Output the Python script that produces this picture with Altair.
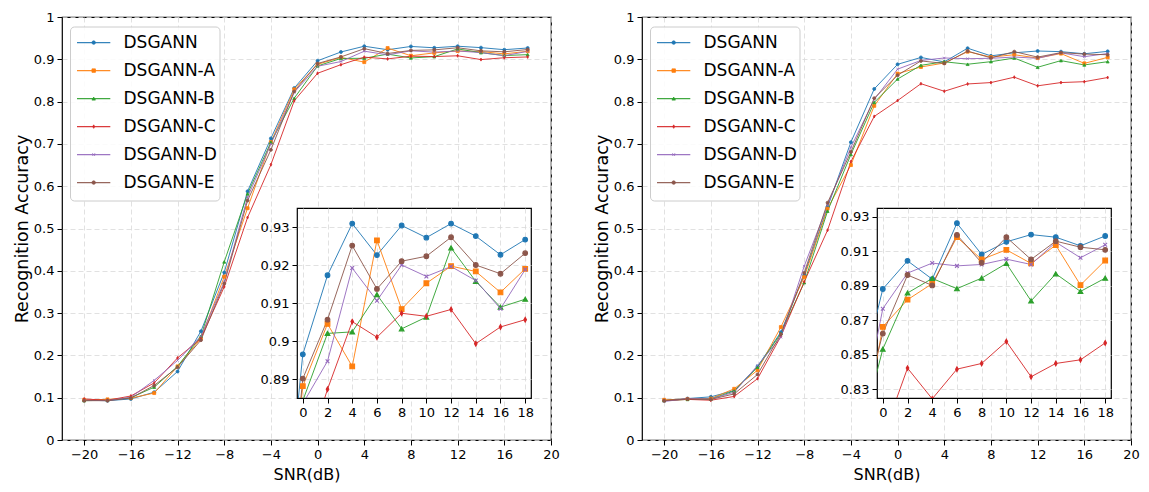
import altair as alt
import pandas as pd

# ---------------- data ----------------
snr = [-20, -18, -16, -14, -12, -10, -8, -6, -4, -2, 0, 2, 4, 6, 8, 10, 12, 14, 16, 18]
series = ["DSGANN", "DSGANN-A", "DSGANN-B", "DSGANN-C", "DSGANN-D", "DSGANN-E"]
colors = ["#1f77b4", "#ff7f0e", "#2ca02c", "#d62728", "#9467bd", "#8c564b"]

# left panel
L_DSGANN = [0.094, 0.093, 0.097, 0.113, 0.162, 0.257, 0.396, 0.588, 0.713, 0.832, 0.8965, 0.9173, 0.9309, 0.9226, 0.9304, 0.9272, 0.9309, 0.9276, 0.9227, 0.9267]
L_A = [0.095, 0.096, 0.099, 0.111, 0.174, 0.240, 0.386, 0.548, 0.704, 0.829, 0.8881, 0.9045, 0.8933, 0.9265, 0.9084, 0.9152, 0.9197, 0.9183, 0.9128, 0.9190]
L_B = [0.093, 0.094, 0.100, 0.125, 0.174, 0.245, 0.421, 0.582, 0.704, 0.808, 0.8843, 0.9020, 0.9024, 0.9122, 0.9032, 0.9063, 0.9245, 0.9157, 0.9089, 0.9110]
L_C = [0.097, 0.094, 0.104, 0.135, 0.194, 0.240, 0.362, 0.526, 0.651, 0.802, 0.8670, 0.8873, 0.9051, 0.9010, 0.9073, 0.9065, 0.9083, 0.8993, 0.9037, 0.9056]
L_D = [0.094, 0.093, 0.101, 0.141, 0.188, 0.245, 0.374, 0.574, 0.700, 0.822, 0.8835, 0.8947, 0.9192, 0.9106, 0.9200, 0.9170, 0.9196, 0.9159, 0.9085, 0.9188]
L_E = [0.093, 0.093, 0.099, 0.129, 0.172, 0.236, 0.370, 0.566, 0.686, 0.824, 0.8901, 0.9056, 0.9251, 0.9137, 0.9210, 0.9223, 0.9273, 0.9200, 0.9177, 0.9231]

# right panel
R_DSGANN = [0.094, 0.098, 0.102, 0.117, 0.174, 0.255, 0.390, 0.551, 0.704, 0.830, 0.8881, 0.9044, 0.8938, 0.9262, 0.9081, 0.9154, 0.9196, 0.9181, 0.9131, 0.9188]
R_A = [0.095, 0.097, 0.098, 0.121, 0.165, 0.267, 0.385, 0.547, 0.650, 0.790, 0.8662, 0.8819, 0.8912, 0.9181, 0.9052, 0.9108, 0.9029, 0.9135, 0.8904, 0.9046]
R_B = [0.093, 0.096, 0.097, 0.116, 0.172, 0.252, 0.372, 0.541, 0.675, 0.798, 0.8533, 0.8858, 0.8942, 0.8883, 0.8944, 0.9029, 0.8812, 0.8969, 0.8867, 0.8944]
R_C = [0.093, 0.096, 0.094, 0.103, 0.145, 0.245, 0.374, 0.496, 0.658, 0.765, 0.8024, 0.8423, 0.8245, 0.8417, 0.8450, 0.8577, 0.8373, 0.8450, 0.8471, 0.8569]
R_D = [0.091, 0.098, 0.097, 0.113, 0.176, 0.243, 0.411, 0.555, 0.692, 0.805, 0.8767, 0.8973, 0.9031, 0.9015, 0.9023, 0.9054, 0.9023, 0.9152, 0.9062, 0.9137]
R_E = [0.093, 0.097, 0.096, 0.109, 0.155, 0.250, 0.395, 0.561, 0.681, 0.808, 0.8623, 0.8962, 0.8902, 0.9194, 0.9033, 0.9181, 0.9052, 0.9158, 0.9123, 0.9108]

main_x_ticks = [-20, -16, -12, -8, -4, 0, 4, 8, 12, 16, 20]
main_y_ticks = [0, 0.1, 0.2, 0.3, 0.4, 0.5, 0.6, 0.7, 0.8, 0.9, 1]
inset_x_ticks = [0, 2, 4, 6, 8, 10, 12, 14, 16, 18]
left_inset_y_ticks = [0.89, 0.90, 0.91, 0.92, 0.93]
right_inset_y_ticks = [0.83, 0.85, 0.87, 0.89, 0.91, 0.93]
left_inset_y_domain = [0.885, 0.935]
right_inset_y_domain = [0.825, 0.935]

shapes = [
    "circle",
    "square",
    "triangle-up",
    "M0,-1L0.55,0L0,1L-0.55,0Z",
    "M-0.8,-0.8L0.8,0.8M-0.8,0.8L0.8,-0.8",
    "circle",
]

FONT = "DejaVu Sans"
W, H = 489, 423
IW, IH = 234, 190
IX, IY = 235, 191
PANEL_GAP = 580


def long_df(cols):
    rows = []
    for name, vals in zip(series, cols):
        for s, v in zip(snr, vals):
            rows.append({"snr": s, "acc": v, "series": name})
    return pd.DataFrame(rows)


color_enc = alt.Color("series:N", scale=alt.Scale(domain=series, range=colors), legend=None)
stroke_enc = alt.Stroke("series:N", scale=alt.Scale(domain=series, range=colors), legend=None)
shape_enc = alt.Shape("series:N", scale=alt.Scale(domain=series, range=shapes), legend=None)


def main_panel(df):
    x = alt.X("snr:Q", scale=alt.Scale(domain=[-21.9, 20], nice=False, zero=False),
              axis=alt.Axis(values=main_x_ticks, title="SNR(dB)", titlePadding=5, titleFontSize=16))
    y = alt.Y("acc:Q", scale=alt.Scale(domain=[0, 1], nice=False, zero=False),
              axis=alt.Axis(values=main_y_ticks, format=".1~f", title="Recognition Accuracy",
                            titlePadding=2, titleFontSize=17.5))
    base = alt.Chart(df)
    lines = base.mark_line(strokeWidth=1, opacity=0.9).encode(x=x, y=y, color=color_enc, detail="series:N")
    pts = base.mark_point(filled=True, size=9, strokeWidth=0.8, opacity=1).encode(
        x=x, y=y, color=color_enc, stroke=stroke_enc, shape=shape_enc)

    ldf = pd.DataFrame({"series": series})
    ly = alt.Y("series:N", scale=alt.Scale(type="point", domain=series, range=[25.6, 165.6], padding=0),
               axis=None)
    box = alt.Chart(ldf.head(1)).mark_rect(fill="white", fillOpacity=0.85, stroke="#cccccc",
                                           strokeWidth=1, cornerRadius=4).encode(
        x=alt.value(8.5), x2=alt.value(158), y=alt.value(10), y2=alt.value(184))
    lrule = alt.Chart(ldf).mark_rule(strokeWidth=1.1, opacity=0.9).encode(
        x=alt.value(15), x2=alt.value(48.3), y=ly, color=color_enc)
    lpt = alt.Chart(ldf).mark_point(filled=True, size=12, strokeWidth=0.8, opacity=1).encode(
        x=alt.value(31.7), y=ly, color=color_enc, stroke=stroke_enc, shape=shape_enc)
    ltxt = alt.Chart(ldf).mark_text(align="left", baseline="middle", fontSize=17, font=FONT,
                                    color="black").encode(
        x=alt.value(61.5), y=ly, text="series:N")

    data_layer = alt.layer(lines, pts)
    legend_layer = alt.layer(box, lrule, lpt, ltxt)
    return alt.layer(data_layer, legend_layer).resolve_scale(y="independent").properties(
        width=W, height=H)


def inset_panel(df, ydom, yticks):
    x = alt.X("snr:Q", scale=alt.Scale(domain=[-0.47, 18.47], nice=False, zero=False),
              axis=alt.Axis(values=inset_x_ticks, title=None))
    y = alt.Y("acc:Q", scale=alt.Scale(domain=ydom, nice=False, zero=False),
              axis=alt.Axis(values=yticks, format=".2~f", title=None))
    base = alt.Chart(df)
    lines = base.mark_line(strokeWidth=1, opacity=0.9, clip=True).encode(
        x=x, y=y, color=color_enc, detail="series:N")
    pts = base.mark_point(filled=True, size=22, strokeWidth=1.1, opacity=1, clip=True).encode(
        x=x, y=y, color=color_enc, stroke=stroke_enc, shape=shape_enc)
    inset = alt.layer(lines, pts).properties(
        width=IW, height=IH, view=alt.ViewBackground(fill="white", stroke="black", strokeWidth=1.2))
    spacer = alt.Chart(pd.DataFrame({"snr": [0]})).mark_point(opacity=0).encode(
        x=alt.X("snr:Q", axis=None), y=alt.Y("snr:Q", axis=None)).properties(
        width=IW, height=IY, view=alt.ViewBackground(stroke="transparent"))
    return alt.vconcat(spacer, inset, spacing=0, bounds="flush")


def panel(df, ydom, yticks):
    # the main view is wrapped in its own concat group so that the inset is
    # positioned relative to the main view's left edge
    wrapped_main = alt.hconcat(main_panel(df), bounds="flush")
    return alt.hconcat(wrapped_main, inset_panel(df, ydom, yticks), spacing=IX, bounds="flush")


dfL = long_df([L_DSGANN, L_A, L_B, L_C, L_D, L_E])
dfR = long_df([R_DSGANN, R_A, R_B, R_C, R_D, R_E])

left = panel(dfL, left_inset_y_domain, left_inset_y_ticks)
right = panel(dfR, right_inset_y_domain, right_inset_y_ticks)

chart = alt.hconcat(left, right, spacing=PANEL_GAP, bounds="flush").properties(
    padding={"left": 4, "top": 2, "right": 0, "bottom": 0}
).configure_view(
    stroke="black", strokeWidth=1.2
).configure_axis(
    domain=False, tickColor="black", tickSize=5, tickWidth=1, labelFontSize=13,
    labelColor="black", labelFont=FONT, titleFont=FONT, titleFontSize=16,
    titleFontWeight="normal", titleColor="black", gridColor="#d9d9d9", gridDash=[5, 3],
    gridWidth=0.8, labelPadding=3, labelFlush=False, labelOverlap=False
).configure_text(font=FONT)

chart.save("out.html", embed_options={"renderer": "svg", "actions": False})
